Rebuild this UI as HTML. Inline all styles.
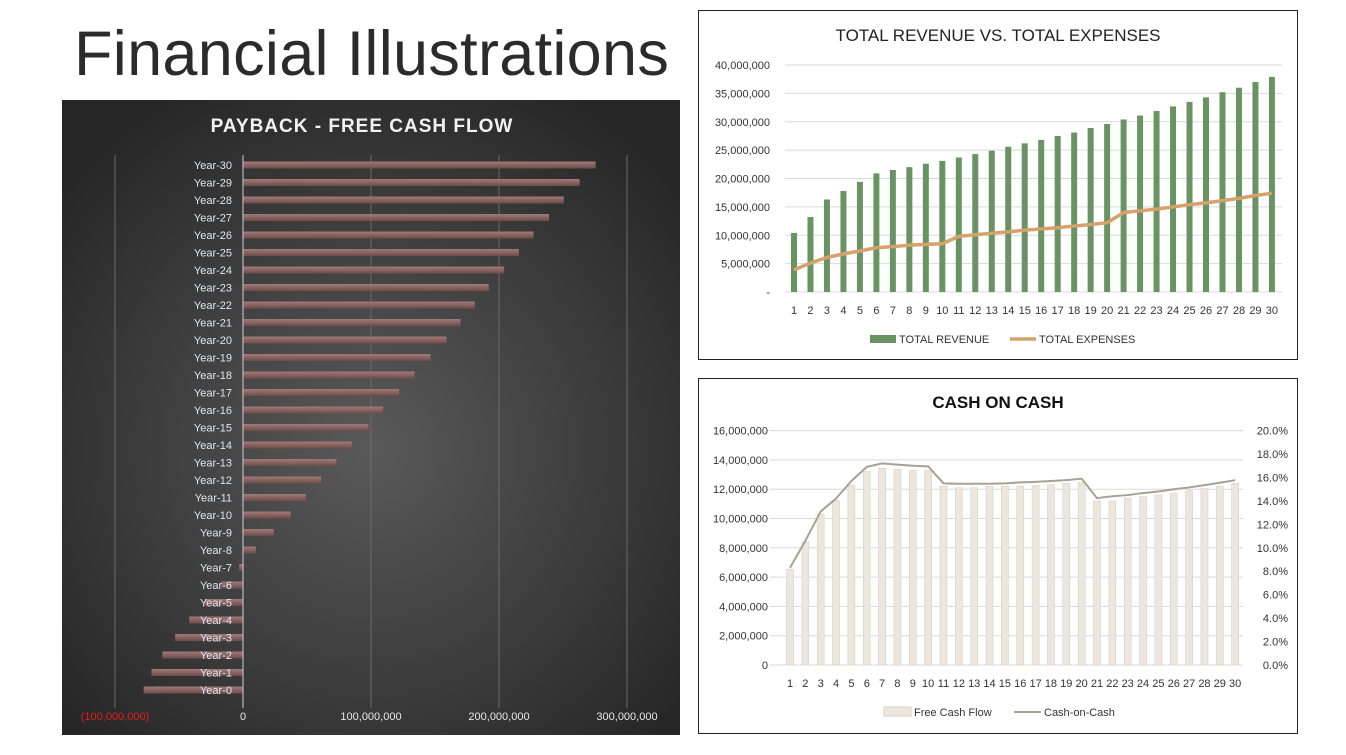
<!DOCTYPE html>
<html><head><meta charset="utf-8"><style>
body{margin:0;width:1346px;height:755px;background:#fff;overflow:hidden;font-family:"Liberation Sans",sans-serif;position:relative}
svg text{font-family:"Liberation Sans",sans-serif}
</style></head><body>
<div style="position:absolute;left:74px;top:18px;font-size:63px;color:#2b2b2b;letter-spacing:0.3px">Financial Illustrations</div>

<svg style="position:absolute;left:62px;top:100px" width="618" height="635">
<defs>
<radialGradient id="bg" cx="50%" cy="55%" r="65%"><stop offset="0" stop-color="#5a5a5a"/><stop offset="1" stop-color="#262626"/></radialGradient>
<linearGradient id="barg" x1="0" y1="0" x2="0" y2="1"><stop offset="0" stop-color="#a07a78"/><stop offset="1" stop-color="#6e4c4a"/></linearGradient>
</defs>
<rect width="618" height="635" fill="url(#bg)"/>
<g id="pb"></g>
</svg>

<svg style="position:absolute;left:698px;top:10px" width="600" height="350">
<rect x="0.5" y="0.5" width="599" height="349" fill="#fff" stroke="#222"/>
<g id="re"></g>
</svg>

<svg style="position:absolute;left:698px;top:378px" width="600" height="356">
<rect x="0.5" y="0.5" width="599" height="355" fill="#fff" stroke="#222"/>
<g id="cc"></g>
</svg>

<script>
const NS="http://www.w3.org/2000/svg";
function mk(p,t,a,txt){const e=document.createElementNS(NS,t);for(const k in a)e.setAttribute(k,a[k]);if(txt!==undefined)e.textContent=txt;p.appendChild(e);return e;}

// ---- Payback data (millions) ----
const pbYears=["Year-0","Year-1","Year-2","Year-3","Year-4","Year-5","Year-6","Year-7","Year-8","Year-9","Year-10","Year-11","Year-12","Year-13","Year-14","Year-15","Year-16","Year-17","Year-18","Year-19","Year-20","Year-21","Year-22","Year-23","Year-24","Year-25","Year-26","Year-27","Year-28","Year-29","Year-30"];
const pbValues=[-77.6,-71.5,-63,-53,-42,-30,-17,-3,10,24,37.4,49,61,73,85,98,109.5,122,134,146.6,159,170,181,192,204,215.6,227,239,250.6,263,275.5];
const pbTicks=[-100,0,100,200,300];
const pbTickLabels=["(100,000,000)","0","100,000,000","200,000,000","300,000,000"];

// ---- Revenue / expenses (millions) ----
const reCats=[1,2,3,4,5,6,7,8,9,10,11,12,13,14,15,16,17,18,19,20,21,22,23,24,25,26,27,28,29,30];
const revenue=[10.4,13.2,16.3,17.8,19.4,20.9,21.5,22.0,22.6,23.1,23.7,24.3,24.9,25.6,26.2,26.8,27.5,28.1,28.9,29.6,30.4,31.1,31.9,32.7,33.5,34.3,35.2,36.0,37.0,37.9];
const expenses=[3.9,5.1,6.1,6.7,7.25,7.8,8.0,8.25,8.4,8.5,9.8,10.1,10.35,10.6,10.9,11.1,11.35,11.6,11.9,12.2,14.0,14.3,14.6,15.0,15.4,15.7,16.1,16.5,17.0,17.4];
const reTicks=[0,5,10,15,20,25,30,35,40];
const reTickLabels=["-","5,000,000","10,000,000","15,000,000","20,000,000","25,000,000","30,000,000","35,000,000","40,000,000"];

// ---- Cash on cash ----
const fcf=[6.54,8.4,10.3,11.23,12.28,13.2,13.43,13.35,13.28,13.28,12.2,12.1,12.1,12.2,12.2,12.2,12.25,12.3,12.4,12.46,11.2,11.2,11.4,11.5,11.6,11.7,11.9,12.05,12.2,12.4];
const coc=[8.3,10.6,13.1,14.2,15.7,16.9,17.2,17.1,17.0,16.95,15.5,15.47,15.46,15.47,15.5,15.58,15.63,15.7,15.77,15.9,14.24,14.4,14.5,14.67,14.8,15.0,15.15,15.35,15.55,15.77];
const ccLeftTicks=[0,2,4,6,8,10,12,14,16];
const ccLeftLabels=["0","2,000,000","4,000,000","6,000,000","8,000,000","10,000,000","12,000,000","14,000,000","16,000,000"];
const ccRightTicks=[0,2,4,6,8,10,12,14,16,18,20];
const ccRightLabels=["0.0%","2.0%","4.0%","6.0%","8.0%","10.0%","12.0%","14.0%","16.0%","18.0%","20.0%"];

// ===== Payback chart =====
(function(){
const g=document.getElementById('pb');
const x=v=>181+v*1.28;
const y=i=>590-i*17.5;
let t=mk(g,'text',{x:300,y:32,'text-anchor':'middle','font-size':19,'font-weight':'bold',fill:'#f2f2f2','letter-spacing':'1'},'PAYBACK - FREE CASH FLOW');


pbTicks.forEach((v,i)=>{
 if(v!==0){let l=mk(g,'line',{x1:x(v),x2:x(v),y1:55,y2:608,stroke:'#6a6a6a','stroke-width':1});
 
 }
 let tl=mk(g,'text',{x:x(v),y:620,'text-anchor':'middle','font-size':11,fill:v<0?'#e02020':'#e8e8e8'},pbTickLabels[i]);
 
 
});
pbValues.forEach((v,i)=>{
 const x0=Math.min(x(0),x(v)),w=Math.abs(x(v)-x(0));
 let b=mk(g,'rect',{x:x0,y:y(i)-3.5,width:w,height:7,fill:'url(#barg)'});
 
 
});
let ax=mk(g,'line',{x1:x(0),x2:x(0),y1:55,y2:608,stroke:'#cfcfcf','stroke-width':1});


pbYears.forEach((n,i)=>{
 let l=mk(g,'text',{x:170,y:y(i)+4,'text-anchor':'end','font-size':11,fill:'#dfe7ef'},n);
 
 
});
})();

// ===== Revenue chart =====
(function(){
const g=document.getElementById('re');
const x=i=>96+i*16.48;
const y=v=>282-v*5.675;
let t=mk(g,'text',{x:300,y:31,'text-anchor':'middle','font-size':17,fill:'#222'},'TOTAL REVENUE VS. TOTAL EXPENSES');


reTicks.forEach((v,i)=>{
 let l=mk(g,'line',{x1:87,x2:584,y1:y(v),y2:y(v),stroke:'#d9d9d9'});
 
 
 let tl=mk(g,'text',{x:72,y:y(v)+4,'text-anchor':'end','font-size':11,fill:'#333'},reTickLabels[i]);
 
 
});
reCats.forEach((c,i)=>{
 let b=mk(g,'rect',{x:x(i)-3,y:y(revenue[i]),width:6,height:y(0)-y(revenue[i]),fill:'#6a9364'});
 
 
 let tl=mk(g,'text',{x:x(i),y:304,'text-anchor':'middle','font-size':11,fill:'#333'},String(c));
 
 
});
let p=mk(g,'polyline',{points:expenses.map((v,i)=>x(i)+','+y(v)).join(' '),fill:'none',stroke:'#d4a26a','stroke-width':3.5,'stroke-linejoin':'round'});


let lg=mk(g,'g',{});


mk(lg,'rect',{x:172,y:325,width:26,height:8,fill:'#6a9364'});
mk(lg,'text',{x:201,y:333,'font-size':11,fill:'#333'},'TOTAL REVENUE');
mk(lg,'line',{x1:312,x2:338,y1:329,y2:329,stroke:'#d4a26a','stroke-width':3.5});
mk(lg,'text',{x:341,y:333,'font-size':11,fill:'#333'},'TOTAL EXPENSES');
})();

// ===== Cash on cash chart =====
(function(){
const g=document.getElementById('cc');
const x=i=>92+i*15.35;
const yl=v=>287-v*14.65;
const yr=v=>287-v*11.72;
let t=mk(g,'text',{x:300,y:30,'text-anchor':'middle','font-size':17,'font-weight':'bold',fill:'#111'},'CASH ON CASH');


ccLeftTicks.forEach((v,i)=>{
 let l=mk(g,'line',{x1:72,x2:545,y1:yl(v),y2:yl(v),stroke:'#d9d9d9'});
 
 
 let tl=mk(g,'text',{x:70,y:yl(v)+4,'text-anchor':'end','font-size':11,fill:'#333'},ccLeftLabels[i]);
 
 
});
ccRightTicks.forEach((v,i)=>{
 let tl=mk(g,'text',{x:590,y:yr(v)+4,'text-anchor':'end','font-size':11,fill:'#333'},ccRightLabels[i]);
 
 
});
fcf.forEach((v,i)=>{
 let b=mk(g,'rect',{x:x(i)-3.5,y:yl(v),width:7,height:yl(0)-yl(v),fill:'#ece6de',stroke:'#d8d0c6','stroke-width':0.6});
 
 
 let tl=mk(g,'text',{x:x(i),y:309,'text-anchor':'middle','font-size':11,fill:'#333'},String(i+1));
 
 
});
let p=mk(g,'polyline',{points:coc.map((v,i)=>x(i)+','+yr(v)).join(' '),fill:'none',stroke:'#a8a294','stroke-width':2});


let lg=mk(g,'g',{});


mk(lg,'rect',{x:186,y:329,width:27,height:9,fill:'#ece6de',stroke:'#d8d0c6'});
mk(lg,'text',{x:216,y:338,'font-size':11,fill:'#333'},'Free Cash Flow');
mk(lg,'line',{x1:316,x2:343,y1:334,y2:334,stroke:'#a8a294','stroke-width':2});
mk(lg,'text',{x:346,y:338,'font-size':11,fill:'#333'},'Cash-on-Cash');
})();
</script>
</body></html>
